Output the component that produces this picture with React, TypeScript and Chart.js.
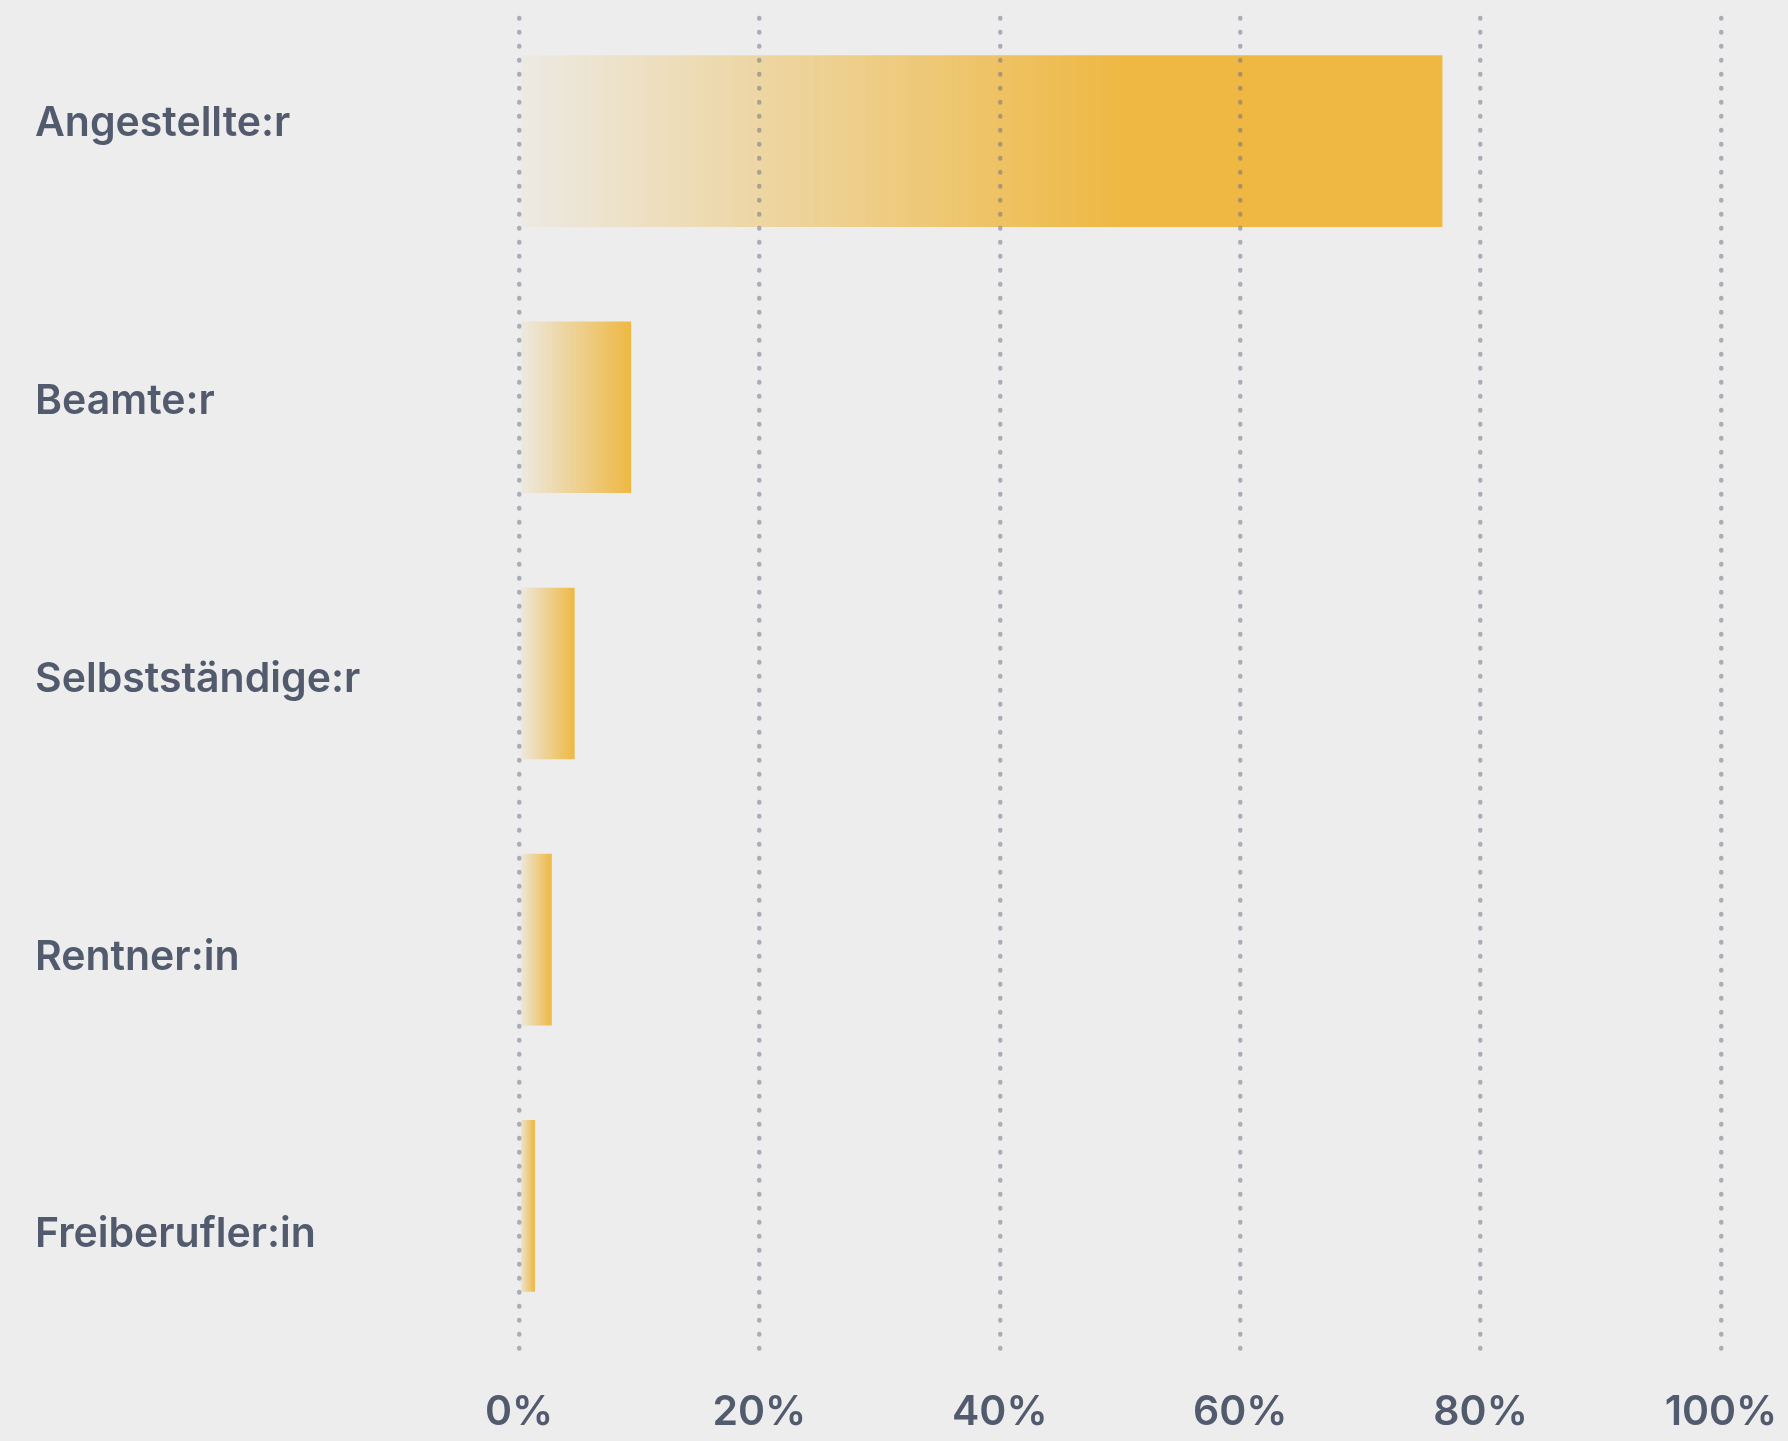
import React, { useEffect, useRef } from "react";
import { Chart, registerables } from "chart.js";

Chart.register(...registerables);

const categories = ["Angestellte:r", "Beamte:r", "Selbstständige:r", "Rentner:in", "Freiberufler:in"];
const shares = [76.8, 9.3, 4.6, 2.7, 1.3];
const xTicks = [0, 20, 40, 60, 80, 100];

const TEXT = "#525a6e";
const FONT = { family: "Inter", size: 41, weight: 600 as const };

export default function App() {
  const ref = useRef<HTMLCanvasElement>(null);

  useEffect(() => {
    document.body.style.margin = "0";
    const canvas = ref.current!;
    const roundCaps = {
      id: "roundCaps",
      beforeDraw(chart: any) {
        chart.ctx.lineCap = "round";
      },
    };
    const chart = new Chart(canvas, {
      type: "bar",
      data: {
        labels: categories,
        datasets: [
          {
            data: shares.map((v, i) => ({ x: v, y: i })) as any,
            xAxisID: "x",
            yAxisID: "y",
            barThickness: 171,
            borderWidth: 0,
            backgroundColor: (c: any) => {
              const ch = c.chart;
              if (!ch.chartArea || c.type !== "data") return "rgb(238,184,67)";
              const xs = ch.scales.x;
              const v = c.parsed ? c.parsed.x : shares[c.dataIndex];
              const x0 = xs.getPixelForValue(0);
              const x1 = xs.getPixelForValue(v);
              const L = Math.max(Math.min(x1 - x0, 600), 1);
              const g = ch.ctx.createLinearGradient(x0, 0, x0 + L, 0);
              g.addColorStop(0, "rgba(238,184,67,0.05)");
              g.addColorStop(1, "rgba(238,184,67,1)");
              return g;
            },
          },
        ],
      },
      options: {
        indexAxis: "y",
        animation: false,
        responsive: false,
        devicePixelRatio: 1,
        layout: { padding: { left: 35, top: 18, right: 67, bottom: 0 } },
        plugins: { legend: { display: false }, tooltip: { enabled: false } },
        scales: {
          x: {
            type: "linear",
            position: "bottom",
            min: 0,
            max: 100,
            afterBuildTicks: (s: any) => {
              s.ticks = xTicks.map((v) => ({ value: v }));
            },
            ticks: {
              callback: (v: any) => v + "%",
              color: TEXT,
              font: FONT,
              padding: 39,
              maxRotation: 0,
              autoSkip: false,
            },
            grid: {
              color: "rgba(105,108,128,0.5)",
              lineWidth: 4.5,
              drawTicks: false,
              z: 1,
            },
            border: { display: false, dash: [0.5, 13.5] },
            afterFit: (s: any) => {
              s.height = 92;
              s.paddingLeft = 0;
              s.paddingRight = 0;
            },
          },
          y: {
            type: "linear",
            display: false,
            reverse: true,
            offset: false,
            min: -0.4624,
            max: 4.5376,
          },
          yl: {
            type: "linear",
            position: "left",
            reverse: true,
            offset: false,
            min: -0.3816,
            max: 4.4104,
            afterBuildTicks: (s: any) => {
              s.ticks = categories.map((_, i) => ({ value: i }));
            },
            ticks: {
              callback: (v: any) => categories[Math.round(v)],
              color: TEXT,
              font: FONT,
              crossAlign: "far",
              padding: 0,
              autoSkip: false,
            },
            grid: { display: false, drawTicks: false },
            border: { display: false },
            afterFit: (s: any) => {
              s.width = 484;
              s.paddingTop = 0;
              s.paddingBottom = 0;
            },
          },
        } as any,
      },
      plugins: [roundCaps],
    });
    return () => chart.destroy();
  }, []);

  return (
    <div style={{ width: 1788, height: 1441, background: "#ededed" }}>
      <canvas ref={ref} width={1788} height={1441} style={{ display: "block" }} />
    </div>
  );
}
